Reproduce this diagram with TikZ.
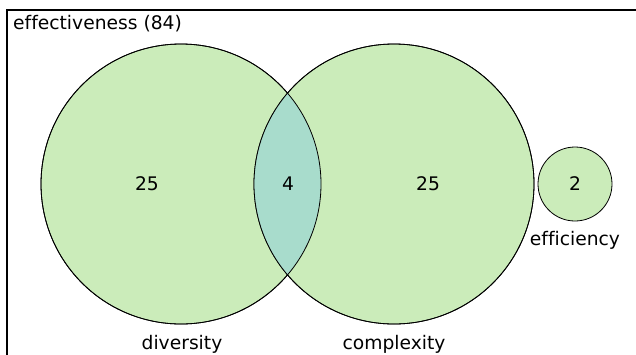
\documentclass[tikz,border=0pt]{standalone}
\usepackage{fontspec}
\setmainfont{DejaVu Sans}[Ligatures=NoCommon]
\definecolor{setgreen}{HTML}{CBECBA}
\definecolor{setteal}{HTML}{A8DCCC}
\begin{document}
\begin{tikzpicture}[x=1pt,y=-1pt,
  setcircle/.style={circle, draw=black, line width=0.8pt, fill=setgreen, inner sep=0pt},
  lbl/.style={font=\fontsize{18.7}{22}\selectfont, inner sep=0pt},
  frameline/.style={line width=2pt}]
\useasboundingbox (0,0) rectangle (636,354);
\node[setcircle, minimum size=280pt] (div) at (181,184) {};
\node[setcircle, minimum size=280pt] (cpx) at (394,184) {};
\begin{scope}
  \clip (181,184) circle (140);
  \fill[setteal] (394,184) circle (140);
\end{scope}
\draw[line width=0.8pt] (181,184) circle (140);
\draw[line width=0.8pt] (394,184) circle (140);
\node[setcircle, minimum size=74pt] (eff) at (575,184) {};
\node[lbl] (n1) at (147,184) {25};
\node[lbl] (n2) at (288,184) {4};
\node[lbl] (n3) at (428,184) {25};
\node[lbl] (n4) at (575,184) {2};
\node[lbl, anchor=base] (ldiv) at (182,349) {diversity};
\node[lbl, anchor=base] (lcpx) at (394,349) {complexity};
\node[lbl, anchor=base] (leff) at (575,245) {efficiency};
\node[lbl, anchor=base west] (title) at (13,29) {effectiveness (84)};
\coordinate (fb) at (7,360);
\coordinate (ftl) at (7,10);
\coordinate (fr) at (645,10);
\draw[frameline] (fb) -- (ftl) -- (fr);
\end{tikzpicture}
\end{document}
